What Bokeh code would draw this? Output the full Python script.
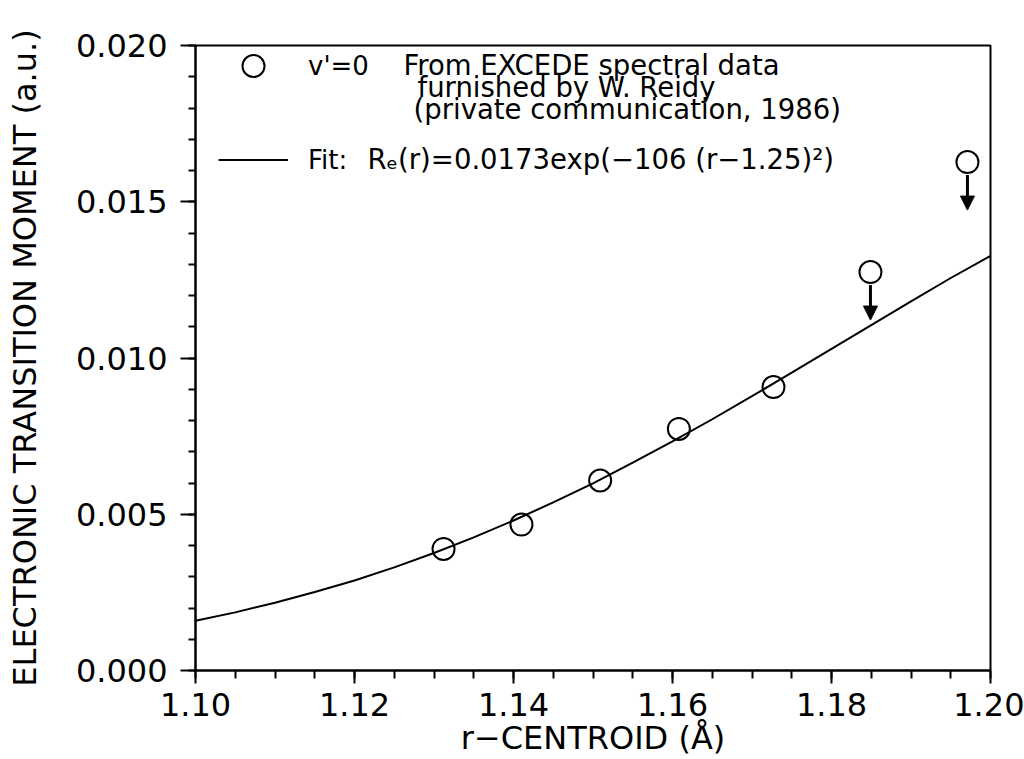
from bokeh.plotting import figure
from bokeh.models import (FixedTicker, PrintfTickFormatter, Label, Arrow, NormalHead,
                          Legend, LegendItem, ColumnDataSource, Range1d)
from bokeh.embed import file_html
from bokeh.resources import INLINE

# ---- data ----
r_centroid = [1.1312, 1.1410, 1.1509, 1.1608, 1.1727, 1.1849, 1.1971]
transition_moment = [0.00389, 0.00467, 0.00608, 0.00773, 0.00907, 0.01275, 0.01627]
upper_limit = [False, False, False, False, False, True, True]

fit_r = [1.100, 1.105, 1.110, 1.115, 1.120, 1.125, 1.130, 1.135, 1.140, 1.145, 1.150,
         1.155, 1.160, 1.165, 1.170, 1.175, 1.180, 1.185, 1.190, 1.195, 1.200]
fit_re = [0.00159, 0.00186, 0.00217, 0.00251, 0.00288, 0.00330, 0.00376, 0.00426,
          0.00480, 0.00538, 0.00599, 0.00665, 0.00733, 0.00804, 0.00878, 0.00953,
          0.01029, 0.01105, 0.01181, 0.01256, 0.01327]

x_major_ticks = [1.10, 1.12, 1.14, 1.16, 1.18, 1.20]
x_minor_ticks = [round(1.10 + 0.005 * i, 3) for i in range(21)]
y_major_ticks = [0.000, 0.005, 0.010, 0.015, 0.020]
y_minor_ticks = [round(0.001 * i, 3) for i in range(21)]

x_title = "r\u2212CENTROID (\u00c5)"
y_title = "ELECTRONIC TRANSITION MOMENT (a.u.)"
legend_point_label = "v'=0"
legend_point_lines = ["From EXCEDE spectral data", "furnished by W. Reidy",
                      "(private communication, 1986)"]
legend_fit_label = "Fit:"
legend_fit_formula = "R\u2091(r)=0.0173exp(\u2212106 (r\u22121.25)\u00b2)"

FONT = "DejaVu Sans"
X0, X1, Y0, Y1 = 1.10, 1.20, 0.0, 0.020
FRAME_W, FRAME_H = 795, 625

p = figure(width=1024, height=759, output_backend="svg", toolbar_location=None,
           x_range=Range1d(X0, X1), y_range=Range1d(Y0, Y1),
           min_border_left=195, min_border_right=34, min_border_top=45,
           min_border_bottom=89)
p.background_fill_color = "white"
p.border_fill_color = "white"
p.outline_line_color = "black"
p.outline_line_width = 2
p.xgrid.visible = False
p.ygrid.visible = False

src = ColumnDataSource(dict(r=r_centroid, m=transition_moment))
pts = p.scatter(x="r", y="m", source=src, marker="circle", size=22,
                fill_color=None, line_color="black", line_width=2)
fit = p.line(fit_r, fit_re, line_color="black", line_width=2)

# upper-limit arrows
px_per_y = FRAME_H / (Y1 - Y0)
for r, m, up in zip(r_centroid, transition_moment, upper_limit):
    if up:
        p.add_layout(Arrow(end=NormalHead(size=14, fill_color="black", line_color="black"),
                           x_start=r, y_start=m - 13 / px_per_y,
                           x_end=r, y_end=m - 48 / px_per_y,
                           line_width=3, line_color="black"))

# axes
for ax in (p.xaxis[0], p.yaxis[0]):
    ax.axis_line_width = 2
    ax.axis_line_color = "black"
    ax.major_tick_line_width = 2
    ax.minor_tick_line_width = 2
    ax.major_tick_in = 0
    ax.minor_tick_in = 0
    ax.major_label_text_font = FONT
    ax.major_label_text_font_size = "32px"
    ax.major_label_text_color = "black"
    ax.axis_label_text_font = FONT
    ax.axis_label_text_font_size = "32px"
    ax.axis_label_text_font_style = "normal"
    ax.axis_label_text_color = "black"

p.xaxis.ticker = FixedTicker(ticks=x_major_ticks, minor_ticks=x_minor_ticks)
p.xaxis.formatter = PrintfTickFormatter(format="%.2f")
p.xaxis.major_tick_out = 13
p.xaxis.minor_tick_out = 8
p.xaxis.major_label_standoff = 9
p.xaxis.axis_label = x_title
p.xaxis.axis_label_standoff = 0

p.yaxis.ticker = FixedTicker(ticks=y_major_ticks, minor_ticks=y_minor_ticks)
p.yaxis.formatter = PrintfTickFormatter(format="%.3f")
p.yaxis.major_tick_out = 15
p.yaxis.minor_tick_out = 7
p.yaxis.major_label_standoff = 13
p.yaxis.axis_label = y_title
p.yaxis.axis_label_standoff = 29

# legend (two items sharing the glyph column)
legend = Legend(items=[LegendItem(label=legend_point_label, renderers=[pts]),
                       LegendItem(label=legend_fit_label, renderers=[fit])],
                location=(23, 483), orientation="vertical",
                glyph_width=70, glyph_height=55, label_height=55, spacing=39,
                padding=0, margin=0, label_standoff=20,
                label_text_font=FONT, label_text_font_size="26px",
                label_text_color="black",
                border_line_color=None, background_fill_alpha=0)
p.add_layout(legend)

# legend description texts (screen units, relative to the frame's bottom-left)
text_pos = [(208, 606), (222, 584), (218, 562)]
for (tx, ty), t in zip(text_pos, legend_point_lines):
    p.add_layout(Label(x=tx, y=ty, x_units="screen", y_units="screen", text=t,
                       text_font=FONT, text_font_size="27.5px", text_color="black",
                       text_baseline="middle"))
p.add_layout(Label(x=172, y=512, x_units="screen", y_units="screen",
                   text=legend_fit_formula, text_font=FONT, text_font_size="27.5px",
                   text_color="black", text_baseline="middle"))

open("out.html", "w").write(file_html(p, INLINE))
